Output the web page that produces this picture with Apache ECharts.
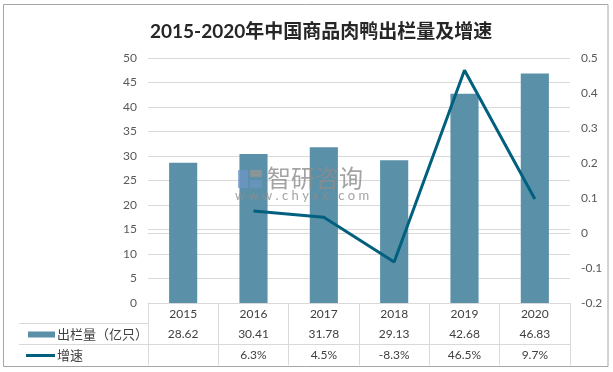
<!DOCTYPE html>
<html><head><meta charset="utf-8">
<script src="https://cdn.jsdelivr.net/npm/echarts@6/dist/echarts.min.js"></script>
<style>html,body{margin:0;padding:0;background:#fff}#c{width:613px;height:372px}</style>
</head><body><div id="c"></div>
<script>
const years = ['2015','2016','2017','2018','2019','2020'];
const volume = [28.62, 30.41, 31.78, 29.13, 42.68, 46.83];
const growth = [null, 0.063, 0.045, -0.083, 0.465, 0.097];
const volName = '出栏量（亿只）';
const growthName = '增速';
const titleText = '2015-2020年中国商品肉鸭出栏量及增速';

const FONT = 'Lato, "Noto Sans CJK SC", sans-serif';
const lineCol = '#d9d9d9';
const chart = echarts.init(document.getElementById('c'), null, {renderer:'canvas'});
const rowAxis = (offset, fmt) => ({
  type:'category', data: years, position:'bottom', offset: offset,
  axisLine:{show:true, lineStyle:{color:lineCol, width:1}},
  axisTick:{show:false},
  axisLabel:{color:'#404040', fontSize:12, fontFamily:FONT, margin:5, formatter: fmt}
});
const wm = 'rgba(140,140,140,0.8)';
chart.setOption({
  animation:false,
  title:{text:titleText, left:145, top:17, textStyle:{fontSize:19, fontWeight:'bold', color:'#262626', fontFamily:FONT}},
  grid:{left:148, right:43, top:58, bottom:69},
  legend:[
    {data:[{name:volName, icon:'rect'}], left:23, top:323, itemWidth:27, itemHeight:6, itemGap:0,
     textStyle:{fontSize:13, color:'#404040', fontFamily:FONT, padding:[0,0,0,-3]}},
    {data:[{name:growthName, icon:'path://M0,0H30V3H0Z'}], left:21, top:344, itemWidth:29, itemHeight:3, itemGap:0,
     symbolKeepAspect:false,
     itemStyle:{color:'#02607f'},
     textStyle:{fontSize:13, color:'#404040', fontFamily:FONT, padding:[0,0,0,-3]}}
  ],
  xAxis:[
    {type:'category', data:years, position:'bottom',
     axisLine:{show:true, lineStyle:{color:lineCol}},
     axisTick:{show:true, length:62, alignWithLabel:false, lineStyle:{color:lineCol}},
     axisLabel:{color:'#404040', fontSize:12, fontFamily:FONT, margin:5}},
    rowAxis(20, (v,i)=>volume[i].toFixed(2)),
    rowAxis(41, (v,i)=> growth[i]==null ? '' : (growth[i]*100).toFixed(1)+'%')
  ],
  yAxis:[
    {type:'value', min:0, max:50, interval:5,
     axisLine:{show:false}, axisTick:{show:false},
     axisLabel:{color:'#595959', fontSize:12, fontFamily:FONT, margin:11},
     splitLine:{lineStyle:{color:lineCol}}},
    {type:'value', min:-0.2, max:0.5, interval:0.1,
     axisLine:{show:false}, axisTick:{show:false},
     axisLabel:{color:'#595959', fontSize:12, fontFamily:FONT, margin:11,
       formatter:v=>String(Math.round(v*10)/10)},
     splitLine:{show:false}}
  ],
  series:[
    {name:volName, type:'bar', data:volume, xAxisIndex:0, yAxisIndex:0, barWidth:'40%',
     itemStyle:{color:'#5b91a8'}},
    {name:growthName, type:'line', data:growth, xAxisIndex:0, yAxisIndex:1, symbol:'none', z:3,
     connectNulls:true, lineStyle:{color:'#02607f', width:3}, itemStyle:{color:'#02607f'}}
  ],
  graphic:[
    {type:'rect', shape:{x:3.5, y:4.5, width:604.5, height:362}, style:{fill:'none', stroke:'#a6a6a6', lineWidth:1}, silent:true},
    {type:'line', shape:{x1:19, y1:323.5, x2:148, y2:323.5}, style:{stroke:lineCol, lineWidth:1}},
    {type:'line', shape:{x1:19, y1:344.5, x2:148, y2:344.5}, style:{stroke:lineCol, lineWidth:1}},
    {type:'rect', zlevel:1, shape:{x:238, y:170, width:10, height:18}, style:{fill:'rgba(110,150,200,0.75)'}},
    {type:'rect', zlevel:1, shape:{x:250, y:170, width:12, height:7}, style:{fill:'rgba(150,150,150,0.8)'}},
    {type:'rect', zlevel:1, shape:{x:250, y:180, width:12, height:8}, style:{fill:'rgba(110,150,200,0.6)'}},
    {type:'text', zlevel:1, x:267, y:166, style:{text:'智研咨询', fontSize:24, fill:wm, fontFamily:'"Noto Sans CJK SC", sans-serif'}},
    {type:'text', zlevel:1, x:235, y:189, style:{text:'w w w . c h y x x . c o m', fontSize:13, fill:wm, fontFamily:FONT}}
  ]
});
</script></body></html>
